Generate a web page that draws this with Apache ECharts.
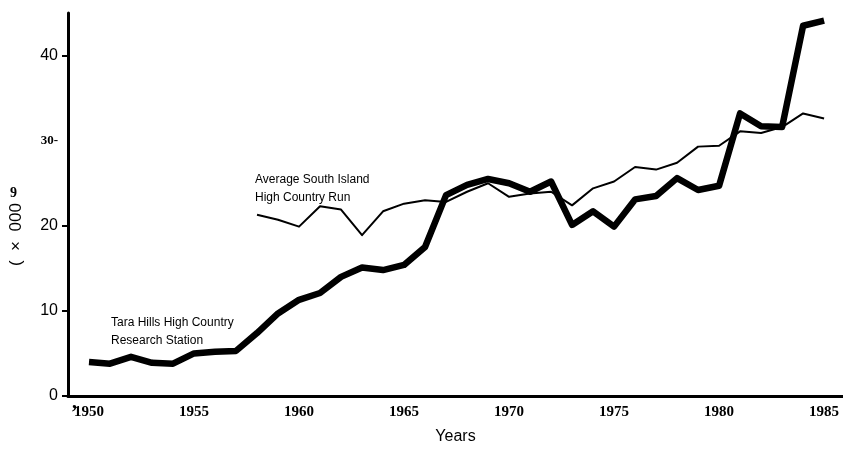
<!DOCTYPE html>
<html>
<head>
<meta charset="utf-8">
<script src="https://cdn.jsdelivr.net/npm/echarts@6/dist/echarts.min.js"></script>
<style>html,body{margin:0;padding:0;background:#fff}#c{width:843px;height:452px}</style>
</head>
<body>
<div id="c"></div>
<script>
const years = [1950,1951,1952,1953,1954,1955,1956,1957,1958,1959,1960,1961,1962,1963,1964,1965,1966,1967,1968,1969,1970,1971,1972,1973,1974,1975,1976,1977,1978,1979,1980,1981,1982,1983,1984,1985];
const taraHills = [4.0,3.8,4.6,3.9,3.8,5.0,5.2,5.3,7.4,9.7,11.3,12.1,14.0,15.1,14.8,15.4,17.5,23.6,24.8,25.5,25.0,24.0,25.2,20.1,21.7,19.9,23.1,23.5,25.6,24.2,24.7,33.2,31.7,31.6,43.5,44.1];
const avgYears = [1958,1959,1960,1961,1962,1963,1964,1965,1966,1967,1968,1969,1970,1971,1972,1973,1974,1975,1976,1977,1978,1979,1980,1981,1982,1983,1984,1985];
const avgSouthIsland = [21.3,20.7,19.9,22.3,21.9,18.9,21.7,22.6,23.0,22.8,24.0,25.0,23.4,23.8,24.0,22.4,24.4,25.2,26.9,26.6,27.4,29.3,29.4,31.1,30.9,31.6,33.2,32.6];
const xTickLabels = [1950,1955,1960,1965,1970,1975,1980,1985];
const yTickLabels = [0,10,20,30,40];
const yTickMarks = [0,10,20,40];

const chart = echarts.init(document.getElementById('c'), null, {renderer:'canvas'});
chart.setOption({
  animation:false,
  backgroundColor:'#fff',
  grid:{left:68,right:0,top:13,bottom:56},
  xAxis:{
    type:'value', min:1949, max:1985.9,
    splitLine:{show:false},
    axisLine:{show:true,lineStyle:{color:'#000',width:3}},
    axisTick:{show:false},
    axisLabel:{customValues:xTickLabels,color:'#000',fontFamily:'Liberation Serif',fontWeight:'bold',fontSize:15,margin:9,formatter:v=>String(v)},
    name:'Years', nameLocation:'middle', nameGap:33,
    nameTextStyle:{color:'#000',fontFamily:'Liberation Sans',fontSize:16}
  },
  yAxis:{
    type:'value', min:0, max:45,
    splitLine:{show:false},
    axisLine:{show:true,lineStyle:{color:'#000',width:3}},
    axisTick:{show:true,customValues:yTickMarks,length:6,lineStyle:{color:'#000',width:2}},
    axisLabel:{customValues:yTickLabels,color:'#000',fontFamily:'Liberation Sans',fontSize:16,margin:10,
      formatter:v=> v===30 ? '{b|30-}' : String(v),
      rich:{b:{fontFamily:'Liberation Serif',fontWeight:'bold',fontSize:13,color:'#000'}}}
  },
  series:[
    {type:'line',name:'Tara Hills',data:years.map((y,i)=>[y,taraHills[i]]),symbol:'none',
     lineStyle:{color:'#000',width:6.5,join:'round'}},
    {type:'line',name:'Average',data:avgYears.map((y,i)=>[y,avgSouthIsland[i]]),symbol:'none',
     lineStyle:{color:'#000',width:2,join:'round'}}
  ],
  graphic:[
    {type:'text',left:255,top:171,style:{text:'Average South Island\nHigh Country Run',font:'12px "Liberation Sans"',fill:'#000',lineHeight:18}},
    {type:'text',left:111,top:314,style:{text:'Tara Hills High Country\nResearch Station',font:'12px "Liberation Sans"',fill:'#000',lineHeight:18}},
    {type:'text',x:10,y:186,style:{text:'9',font:'bold 14px "Liberation Serif"',fill:'#000'}},
    {type:'text',x:8,y:266,rotation:Math.PI/2,style:{text:'(  \u00d7  000',font:'17px "Liberation Sans"',fill:'#000'}},
    {type:'text',x:72,y:393,style:{text:',',font:'bold 20px "Liberation Serif"',fill:'#000'}}
  ]
});
</script>
</body>
</html>
